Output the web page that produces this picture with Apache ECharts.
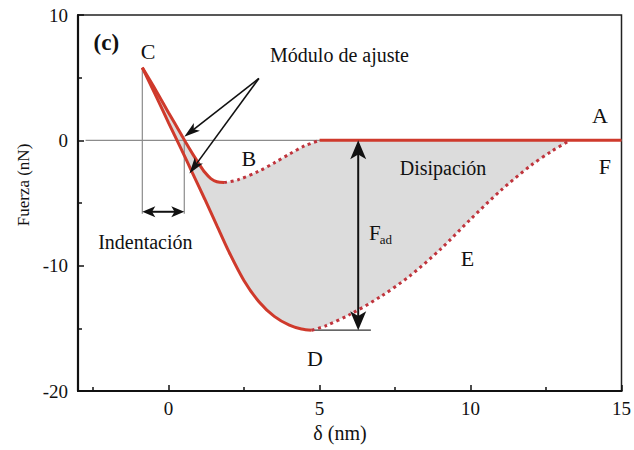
<!DOCTYPE html>
<html>
<head>
<meta charset="utf-8">
<title>Curva fuerza-deformación</title>
<script src="https://cdn.jsdelivr.net/npm/echarts@6/dist/echarts.min.js"></script>
<style>
  html, body { margin: 0; padding: 0; background: #ffffff; }
  #chart { width: 634px; height: 450px; }
</style>
</head>
<body>
<div id="chart"></div>
<script>
// Force–indentation cycle: approach (A→B→C) and retract (C→D→E→F), δ in nm, force in nN
const approachSolid  = [[-0.87, 5.8], [-0.4, 3.9], [0, 2.2], [0.4, 0.55], [0.6, -0.3], [0.8, -1.1],
                        [1.0, -1.85], [1.2, -2.55], [1.4, -3.05], [1.6, -3.3], [1.84, -3.37]];
const approachDotted = [[1.84, -3.37], [2.3, -3.15], [3.0, -2.45], [3.5, -1.8], [4.0, -1.1],
                        [4.5, -0.45], [5.0, 0]];
const baseline       = [[5.0, 0], [15, 0]];
const retractSolid   = [[-0.87, 5.8], [-0.4, 3.45], [0, 1.4], [0.4, -0.6], [0.8, -2.65], [1.2, -4.7],
                        [1.6, -6.8], [2.0, -8.9], [2.5, -11.2], [3.0, -12.9], [3.5, -14.05],
                        [4.0, -14.75], [4.4, -15.05], [4.74, -15.15]];
const retractDotted  = [[4.74, -15.15], [5.2, -14.8], [6.0, -13.9], [7.0, -12.5], [8.0, -10.8],
                        [9.0, -8.7], [10.0, -6.3], [11.0, -4.0], [12.0, -2.0], [12.7, -0.85], [13.3, 0]];

// Axis ticks
const xTickValues  = [0, 5, 10, 15];
const xMinorTicks  = [-2.5, 2.5, 7.5, 12.5];
const yRange       = [-20, 10];

// Annotation geometry (data units)
const moduloTail   = [2.99, 4.94];
const moduloTips   = [[0.52, 0.29], [0.69, -2.64]];
const indentSpan   = [[-0.87, -5.7], [0.52, -5.7]];
const adhesionSpan = [[6.28, 0], [6.28, -15.15]];
const guideLines   = [
  [[-2.75, 0], [15, 0]],
  [[-0.87, 5.8], [-0.87, -5.85]],
  [[0.52, 0], [0.52, -5.85]]
];
const minLevelLine = [[4.74, -15.15], [6.7, -15.15]];

// Text annotations
const pointLabels = [
  { text: 'C', at: [-0.68, 7.05] },
  { text: 'B', at: [2.66, -1.44] },
  { text: 'A', at: [14.29, 2.01] },
  { text: 'F', at: [14.45, -2.11] },
  { text: 'E', at: [9.9, -9.43] },
  { text: 'D', at: [4.85, -17.4] }
];
const noteLabels = [
  { text: 'Módulo de ajuste', at: [5.66, 6.8] },
  { text: 'Disipación', at: [9.09, -2.24] },
  { text: 'Indentación', at: [-0.77, -8.1] }
];
const forceLabel = { main: 'F', sub: 'ad', at: [6.83, -7.43], subAt: [7.2, -7.92] };
const panelLabel = { text: '(c)', at: [-2.06, 7.78] };

// Closed dissipation loop: approach path out, retract path back
const dissipationLoop = approachSolid
  .concat(approachDotted.slice(1))
  .concat([[13.3, 0]])
  .concat(retractDotted.slice().reverse().slice(1))
  .concat(retractSolid.slice().reverse().slice(1));

const FAMILY = 'Liberation Serif';
const INK = '#111111';
const RED = '#cf3a2c';
const RED_DOT = '#c0343c';

function arrowHead(tip, from, len, wid) {
  const dx = tip[0] - from[0], dy = tip[1] - from[1];
  const d = Math.hypot(dx, dy);
  const ux = dx / d, uy = dy / d, nx = -uy, ny = ux;
  const bx = tip[0] - ux * len, by = tip[1] - uy * len;
  const kx = tip[0] - ux * len * 0.75, ky = tip[1] - uy * len * 0.75;
  return {
    type: 'polygon',
    shape: { points: [tip, [bx + nx * wid / 2, by + ny * wid / 2], [kx, ky], [bx - nx * wid / 2, by - ny * wid / 2]] },
    style: { fill: INK }
  };
}

function shortened(from, to, len) {
  const dx = to[0] - from[0], dy = to[1] - from[1];
  const d = Math.hypot(dx, dy);
  return [to[0] - dx / d * len, to[1] - dy / d * len];
}

function arrow(a, b, opts) {
  const items = [];
  let start = a, end = b;
  if (opts.headStart) start = shortened(b, a, opts.len * 0.7);
  if (opts.headEnd) end = shortened(a, b, opts.len * 0.7);
  items.push({ type: 'line', shape: { x1: start[0], y1: start[1], x2: end[0], y2: end[1] },
               style: { stroke: INK, lineWidth: opts.width } });
  if (opts.headEnd) items.push(arrowHead(b, a, opts.len, opts.wid));
  if (opts.headStart) items.push(arrowHead(a, b, opts.len, opts.wid));
  return items;
}

function textEl(text, p, size, weight) {
  return {
    type: 'text', x: p[0], y: p[1],
    style: { text: text, fontFamily: FAMILY, fontSize: size, fontWeight: weight || 'normal',
             fill: INK, align: 'center', verticalAlign: 'middle' }
  };
}

const chart = echarts.init(document.getElementById('chart'), null, { renderer: 'svg' });

const option = {
  animation: false,
  backgroundColor: '#ffffff',
  textStyle: { fontFamily: FAMILY },
  grid: { left: 78, right: 9, top: 15, bottom: 59, show: true, borderColor: '#222', borderWidth: 1.5 },
  xAxis: [
    {
      type: 'value', min: -3, max: 15,
      axisLine: { show: true, onZero: false, lineStyle: { color: INK, width: 2.2 } },
      axisTick: { show: true, inside: true, length: 6, customValues: xTickValues, lineStyle: { color: INK, width: 1.5 } },
      axisLabel: { customValues: xTickValues, color: INK, fontFamily: FAMILY, fontSize: 19, margin: 8 },
      splitLine: { show: false }
    },
    {
      type: 'value', min: -3, max: 15, position: 'bottom',
      axisLine: { show: false, onZero: false },
      axisTick: { show: true, inside: true, length: 4, customValues: xMinorTicks, lineStyle: { color: INK, width: 1.5 } },
      axisLabel: { show: false },
      splitLine: { show: false }
    }
  ],
  yAxis: {
    type: 'value', min: yRange[0], max: yRange[1], interval: 10,
    axisLine: { show: true, onZero: false, lineStyle: { color: INK, width: 2.2 } },
    axisTick: { show: true, inside: true, length: 6, lineStyle: { color: INK, width: 1.5 } },
    minorTick: { show: true, splitNumber: 2, length: 4, lineStyle: { color: INK, width: 1.5 } },
    axisLabel: { color: INK, fontFamily: FAMILY, fontSize: 19, margin: 10 },
    splitLine: { show: false }
  },
  graphic: [
    { type: 'text', x: 340, y: 433,
      style: { text: 'δ (nm)', fontFamily: FAMILY, fontSize: 20, fill: INK, align: 'center', verticalAlign: 'middle' } },
    { type: 'text', x: 23, y: 185, rotation: Math.PI / 2,
      style: { text: 'Fuerza (nN)', fontFamily: FAMILY, fontSize: 17, fill: INK, align: 'center', verticalAlign: 'middle' } }
  ],
  series: [
    {
      name: 'Disipación', type: 'custom', coordinateSystem: 'cartesian2d', silent: true, z: 1,
      data: [[0, 0]],
      renderItem: function (params, api) {
        return { type: 'polygon', shape: { points: dissipationLoop.map(p => api.coord(p)) },
                 style: { fill: '#dcdcdc' } };
      }
    },
    {
      name: 'guías', type: 'custom', coordinateSystem: 'cartesian2d', silent: true, z: 2,
      data: [[0, 0]],
      renderItem: function (params, api) {
        const children = guideLines.map(seg => {
          const a = api.coord(seg[0]), b = api.coord(seg[1]);
          return { type: 'line', shape: { x1: a[0], y1: a[1], x2: b[0], y2: b[1] },
                   style: { stroke: '#8c8c8c', lineWidth: 1.2 } };
        });
        const m0 = api.coord(minLevelLine[0]), m1 = api.coord(minLevelLine[1]);
        children.push({ type: 'line', shape: { x1: m0[0], y1: m0[1], x2: m1[0], y2: m1[1] },
                        style: { stroke: '#333', lineWidth: 1.2 } });
        return { type: 'group', children: children };
      }
    },
    { name: 'aproximación', type: 'line', data: approachSolid, showSymbol: false, smooth: 0.3, z: 3,
      lineStyle: { color: RED, width: 3 } },
    { name: 'aproximación (sin contacto)', type: 'line', data: approachDotted, showSymbol: false, smooth: 0.3, z: 3,
      lineStyle: { color: RED_DOT, width: 3, type: [3, 3.6] } },
    { name: 'línea base', type: 'line', data: baseline, showSymbol: false, z: 3,
      lineStyle: { color: RED, width: 3 } },
    { name: 'retracción', type: 'line', data: retractSolid, showSymbol: false, smooth: 0.3, z: 3,
      lineStyle: { color: RED, width: 3 } },
    { name: 'retracción (separación)', type: 'line', data: retractDotted, showSymbol: false, smooth: 0.3, z: 3,
      lineStyle: { color: RED_DOT, width: 3, type: [3, 3.6] } },
    {
      name: 'anotaciones', type: 'custom', coordinateSystem: 'cartesian2d', silent: true, z: 5,
      data: [[0, 0]],
      renderItem: function (params, api) {
        let children = [];
        const tail = api.coord(moduloTail);
        moduloTips.forEach(t => {
          children = children.concat(arrow(tail, api.coord(t), { headEnd: true, len: 16, wid: 10, width: 1.6 }));
        });
        children = children.concat(arrow(api.coord(indentSpan[0]), api.coord(indentSpan[1]),
          { headStart: true, headEnd: true, len: 13, wid: 11, width: 2 }));
        children = children.concat(arrow(api.coord(adhesionSpan[0]), api.coord(adhesionSpan[1]),
          { headStart: true, headEnd: true, len: 19, wid: 16, width: 2 }));
        pointLabels.forEach(l => children.push(textEl(l.text, api.coord(l.at), 22)));
        noteLabels.forEach(l => children.push(textEl(l.text, api.coord(l.at), 20)));
        children.push(textEl(forceLabel.main, api.coord(forceLabel.at), 21));
        children.push(textEl(forceLabel.sub, api.coord(forceLabel.subAt), 13));
        children.push(textEl(panelLabel.text, api.coord(panelLabel.at), 23, 'bold'));
        return { type: 'group', children: children };
      }
    }
  ]
};

chart.setOption(option);
</script>
</body>
</html>
